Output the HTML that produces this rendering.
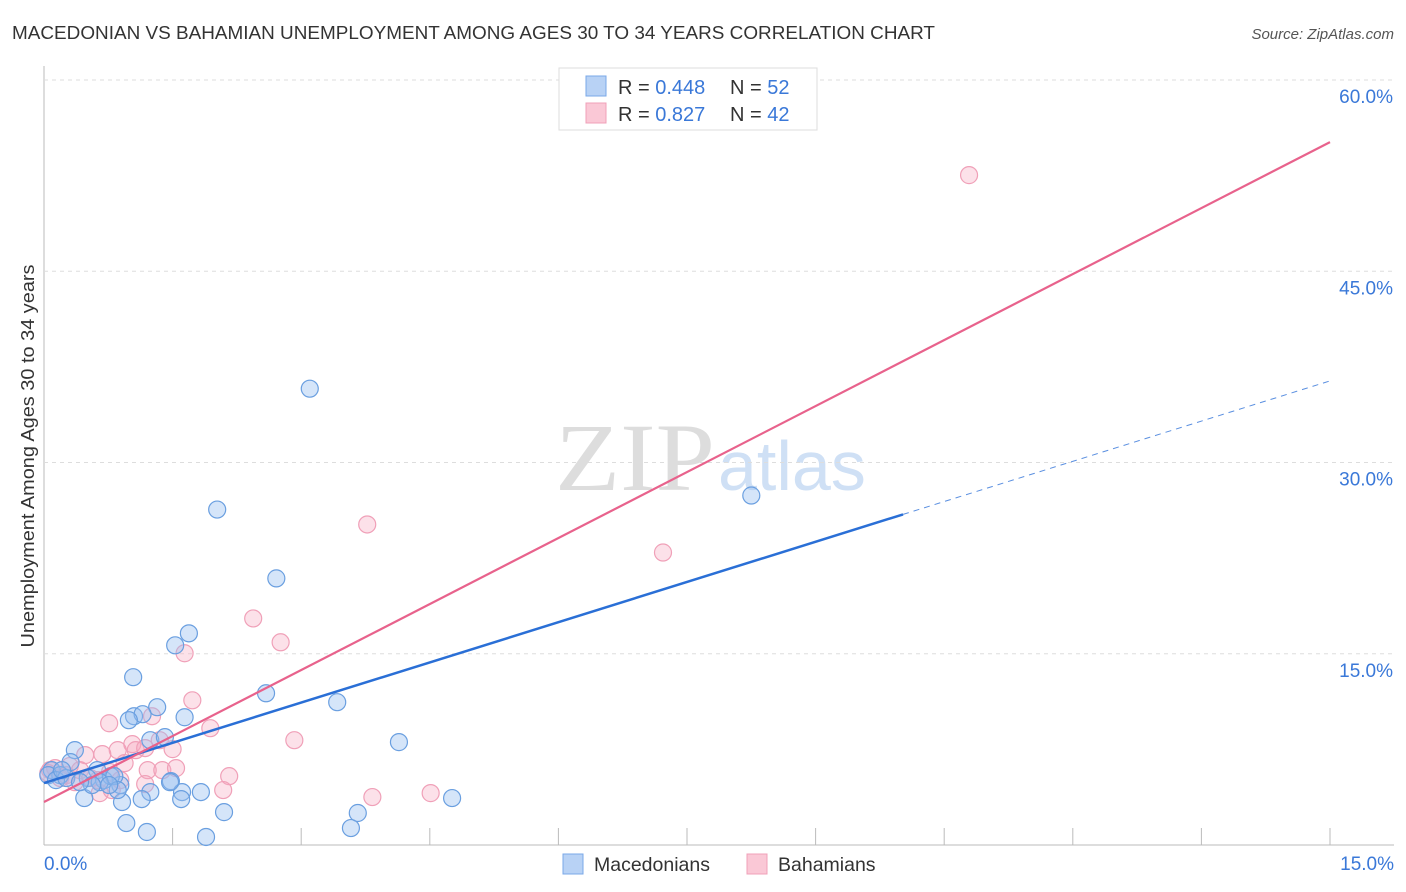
<!DOCTYPE html>
<html><head><meta charset="utf-8"><style>
body{margin:0;background:#fff;font-family:"Liberation Sans",sans-serif;}
#wrap{position:relative;width:1406px;height:892px;overflow:hidden}
</style></head><body><div id="wrap">
<svg id="svg" width="1406" height="892" xmlns="http://www.w3.org/2000/svg">
<text x="12" y="39" font-size="18" fill="#333" textLength="923" lengthAdjust="spacingAndGlyphs">MACEDONIAN VS BAHAMIAN UNEMPLOYMENT AMONG AGES 30 TO 34 YEARS CORRELATION CHART</text>
<text x="1394" y="39" font-size="15" fill="#555" font-style="italic" text-anchor="end">Source: ZipAtlas.com</text>
<text x="555" y="490" font-size="96" fill="#ddd" textLength="160" lengthAdjust="spacingAndGlyphs" font-family="Liberation Serif,serif">ZIP</text>
<text x="718" y="490" font-size="70" fill="#cfe0f5">atlas</text>
<text transform="translate(34,456) rotate(-90)" font-size="18" fill="#333" text-anchor="middle" textLength="383" lengthAdjust="spacingAndGlyphs">Unemployment Among Ages 30 to 34 years</text>
<g id="grid"></g><g id="marks"></g>
<g>
<rect x="559" y="68" width="258" height="62" fill="#fff" stroke="#ddd"/>
<rect x="586" y="76" width="20" height="20" fill="#b8d2f5" stroke="#7aa8e8"/>
<rect x="586" y="103" width="20" height="20" fill="#fac8d6" stroke="#f0a0b8"/>
<text x="618" y="94" font-size="20" fill="#333">R = <tspan fill="#3a78d8">0.448</tspan><tspan x="730">N = </tspan><tspan fill="#3a78d8">52</tspan></text>
<text x="618" y="121" font-size="20" fill="#333">R = <tspan fill="#3a78d8"> 0.827</tspan><tspan x="730">N = </tspan><tspan fill="#3a78d8">42</tspan></text>
</g>
<text x="44" y="870" font-size="19" fill="#3a78d8">0.0%</text>
<text x="1394" y="870" font-size="19" fill="#3a78d8" text-anchor="end">15.0%</text>
<rect x="563" y="854" width="20" height="20" fill="#b8d2f5" stroke="#7aa8e8"/>
<text x="594" y="871" font-size="19.5" fill="#333">Macedonians</text>
<rect x="747" y="854" width="20" height="20" fill="#fac8d6" stroke="#f0a0b8"/>
<text x="778" y="871" font-size="19.5" fill="#333">Bahamians</text>
</svg></div>
<script>
const yTicks=[15,30,45,60];
const blueX=[3.10,2.02,2.71,8.25,1.69,1.53,1.04,2.59,3.42,1.32,1.05,1.64,1.15,0.99,1.24,1.41,4.14,0.36,0.62,0.31,0.09,0.19,0.51,0.70,0.89,0.78,1.48,1.24,1.61,1.83,0.47,0.91,1.14,1.60,2.10,4.76,3.66,0.96,1.20,1.89,3.58,0.05,0.14,0.26,0.82,0.65,0.86,0.56,0.42,0.21,0.76,1.47];
const blueY=[35.79,26.31,20.91,27.41,16.60,15.66,13.16,11.90,11.20,10.81,10.10,10.02,10.26,9.79,8.22,8.46,8.07,7.44,5.87,6.50,5.87,5.48,5.25,5.09,4.70,5.40,5.01,4.15,4.15,4.15,3.68,3.37,3.60,3.60,2.58,3.68,2.51,1.72,1.02,0.63,1.33,5.48,5.09,5.25,5.40,4.93,4.31,4.70,4.93,5.87,4.70,4.93];
const pinkX=[10.79,3.77,7.22,2.44,2.76,1.64,1.73,0.76,1.94,1.26,1.03,1.07,1.18,0.86,0.68,0.48,1.50,1.35,2.92,0.94,1.21,1.38,1.54,2.16,1.18,2.09,3.83,4.51,0.65,0.19,0.07,0.30,0.42,0.13,0.89,0.54,0.26,0.77,0.63,0.05,0.36,0.79];
const pinkY=[52.54,25.14,22.94,17.77,15.90,15.04,11.35,9.55,9.16,10.10,7.91,7.44,7.60,7.44,7.13,7.05,7.52,8.22,8.22,6.42,5.87,5.87,6.03,5.40,4.78,4.31,3.76,4.07,4.07,5.25,5.87,6.19,5.87,6.03,5.09,5.25,5.48,5.72,5.09,5.64,4.93,4.31];
const blueTrend=[4.86,36.4];
const pinkTrend=[3.37,55.13];
const blueSolidEnd=10.02;
const NS='http://www.w3.org/2000/svg';
const X=v=>44+v/15*1286, Y=v=>845-v/60*765;
function mk(t,a,p){const e=document.createElementNS(NS,t);for(const k in a)e.setAttribute(k,a[k]);p.appendChild(e);return e;}
const grid=document.getElementById('grid'),marks=document.getElementById('marks');
let ax=mk('line',{x1:44,y1:66,x2:44,y2:845,stroke:'#bbb'},grid);


let bx=mk('line',{x1:44,y1:845,x2:1394,y2:845,stroke:'#bbb'},grid);


for(let i=1;i<=10;i++){let t=mk('line',{x1:X(i*1.5),x2:X(i*1.5),y1:828,y2:845,stroke:'#bbb'},grid);

}
yTicks.forEach(v=>{let g=mk('line',{x1:44,x2:1394,y1:Y(v),y2:Y(v),stroke:'#ddd','stroke-dasharray':'4,4'},grid);


let t=mk('text',{x:1393,y:Y(v)+23,'font-size':19,fill:'#3a78d8','text-anchor':'end'},grid);t.textContent=v.toFixed(1)+'%';

});
function pts(xs,ys,fill,stroke,name){xs.forEach((x,i)=>{let c=mk('circle',{cx:X(x),cy:Y(ys[i]),r:8.5,fill:fill,stroke:stroke,'stroke-width':1.2},marks);

});}
pts(pinkX,pinkY,'rgba(246,170,192,0.35)','#f0a0b8','bahamian-point');
pts(blueX,blueY,'rgba(150,190,240,0.4)','#6a9fe0','macedonian-point');
const bl=v=>blueTrend[0]+(blueTrend[1]-blueTrend[0])*v/15, pl=v=>pinkTrend[0]+(pinkTrend[1]-pinkTrend[0])*v/15;
let l1=mk('line',{x1:X(0),y1:Y(bl(0)),x2:X(blueSolidEnd),y2:Y(bl(blueSolidEnd)),stroke:'#2a6fd6','stroke-width':2.5},marks);


let l2=mk('line',{x1:X(blueSolidEnd),y1:Y(bl(blueSolidEnd)),x2:X(15),y2:Y(bl(15)),stroke:'#5a8fe0','stroke-width':1,'stroke-dasharray':'6,5'},marks);


let l3=mk('line',{x1:X(0),y1:Y(pl(0)),x2:X(15),y2:Y(pl(15)),stroke:'#e8628c','stroke-width':2.2},marks);


</script></body></html>
